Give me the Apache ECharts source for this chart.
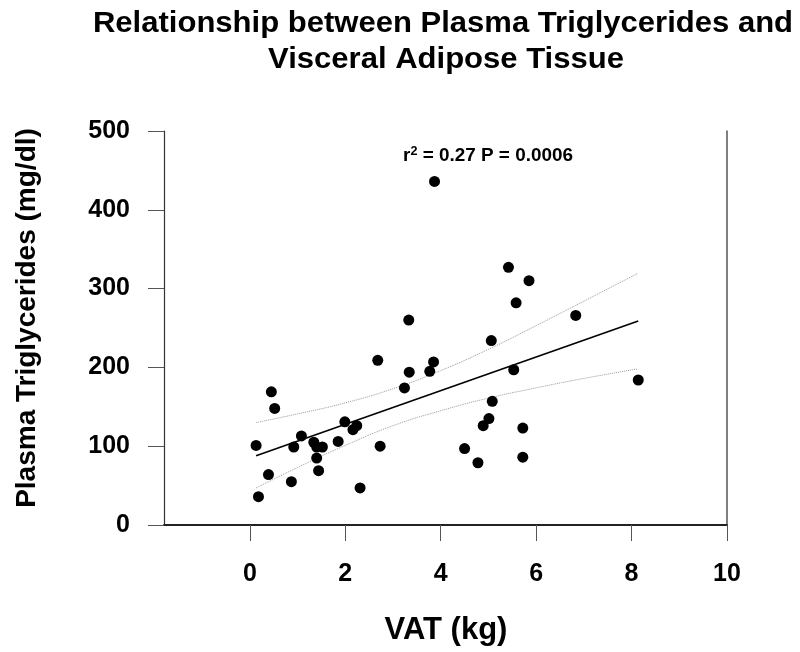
<!DOCTYPE html>
<html>
<head>
<meta charset="utf-8">
<script src="https://cdn.jsdelivr.net/npm/echarts@6/dist/echarts.min.js"></script>
<style>
html,body{margin:0;padding:0;background:#fff;}
#chart{width:800px;height:652px;}
</style>
</head>
<body>
<div id="chart"></div>
<script>
// VAT (kg) values for each subject
const vat = [0.13,0.18,0.39,0.45,0.52,0.87,0.92,1.08,1.34,1.40,1.52,1.40,1.44,1.85,1.99,2.16,2.24,2.31,2.68,2.73,
             3.24,3.34,3.33,3.77,3.85,3.87,4.50,4.78,4.89,5.01,5.08,5.06,5.42,5.58,5.85,5.53,5.72,5.72,6.83,8.14];
// Plasma triglycerides (mg/dl) for each subject
const tg  = [101,36,64,169,148,55,99,113,105,99,99,85,69,106,131,121,126,47,209,100,
             174,194,260,195,207,436,97,79,126,135,157,234,327,282,310,197,123,86,266,184];
// Regression line end points
const fitX = [0.13, 8.14];
const fitY = [88, 259];
// 95% confidence band
const bandX     = [0.13, 1, 2, 3, 4, 5, 6, 7, 8.12];
const bandUpper = [130, 141, 155, 173, 196, 223, 253, 284, 319];
const bandLower = [47, 73, 101, 126, 145, 161, 174, 186, 198];
// Axis ticks
const xTicks = [0, 2, 4, 6, 8, 10];
const yTicks = [0, 100, 200, 300, 400, 500];

const titleText = ['Relationship between Plasma Triglycerides and', 'Visceral Adipose Tissue'];
const xTitle = 'VAT (kg)';
const yTitle = 'Plasma Triglycerides (mg/dl)';
const annotR = 'r', annotSup = '2', annotRest = ' = 0.27 P = 0.0006';

const FONT = '"Liberation Sans", Arial, sans-serif';
const pts = vat.map((v, i) => [v, tg[i]]);
const fit = fitX.map((v, i) => [v, fitY[i]]);
const up = bandX.map((v, i) => [v, bandUpper[i]]);
const lo = bandX.map((v, i) => [v, bandLower[i]]);

const chart = echarts.init(document.getElementById('chart'), null, {renderer: 'canvas'});
chart.setOption({
  animation: false,
  backgroundColor: '#fff',
  grid: {left: 164, top: 131, width: 563, height: 394, containLabel: false},
  xAxis: {
    type: 'value', min: -1.8, max: 10,
    axisLine: {show: true, onZero: false, lineStyle: {color: '#222', width: 2}},
    axisTick: {show: true, length: 16, customValues: xTicks, lineStyle: {color: '#555', width: 1}},
    axisLabel: {customValues: xTicks, margin: 37, fontFamily: FONT, fontWeight: 'bold', fontSize: 25, color: '#000'},
    splitLine: {show: false}
  },
  yAxis: [{
    type: 'value', min: 0, max: 500, interval: 100, position: 'left',
    axisLine: {show: true, onZero: false, lineStyle: {color: '#333', width: 1.2}},
    axisTick: {show: true, length: 16, lineStyle: {color: '#555', width: 1}},
    axisLabel: {margin: 34, fontFamily: FONT, fontWeight: 'bold', fontSize: 25, color: '#000'},
    splitLine: {show: false}
  }, {
    type: 'value', min: 0, max: 500, position: 'right',
    axisLine: {show: true, onZero: false, lineStyle: {color: '#555', width: 1.5}},
    axisTick: {show: false}, axisLabel: {show: false}, splitLine: {show: false}
  }],
  series: [
    {type: 'line', data: up, smooth: true, symbol: 'none', lineStyle: {color: '#999', width: 1, type: 'dotted'}, z: 1},
    {type: 'line', data: lo, smooth: true, symbol: 'none', lineStyle: {color: '#999', width: 1, type: 'dotted'}, z: 1},
    {type: 'line', data: fit, symbol: 'none', lineStyle: {color: '#000', width: 1.6}, z: 2},
    {type: 'scatter', data: pts, symbol: 'circle', symbolSize: 11, itemStyle: {color: '#000', opacity: 1}, z: 3}
  ],
  graphic: [
    {type: 'text', x: 443, y: 24, scaleX: 1.07, style: {text: titleText[0], font: 'bold 29px ' + FONT, fill: '#000', align: 'center', verticalAlign: 'middle'}},
    {type: 'text', x: 446, y: 60, scaleX: 1.07, style: {text: titleText[1], font: 'bold 29px ' + FONT, fill: '#000', align: 'center', verticalAlign: 'middle'}},
    {type: 'text', x: 446, y: 630, style: {text: xTitle, font: 'bold 31px ' + FONT, fill: '#000', align: 'center', verticalAlign: 'middle'}},
    {type: 'text', x: 27, y: 318, rotation: Math.PI / 2, style: {text: yTitle, font: 'bold 28px ' + FONT, fill: '#000', align: 'center', verticalAlign: 'middle'}},
    {type: 'text', x: 488, y: 156, scaleX: 1.05, style: {
      text: '{r|' + annotR + '}{s|' + annotSup + '}{r|' + annotRest + '}',
      align: 'center', verticalAlign: 'middle',
      rich: {
        r: {font: 'bold 18px ' + FONT, fill: '#000', color: '#000'},
        s: {font: 'bold 12px ' + FONT, fill: '#000', color: '#000', verticalAlign: 'top', padding: [0, 0, 8, 0]}
      }
    }}
  ]
});
</script>
</body>
</html>
